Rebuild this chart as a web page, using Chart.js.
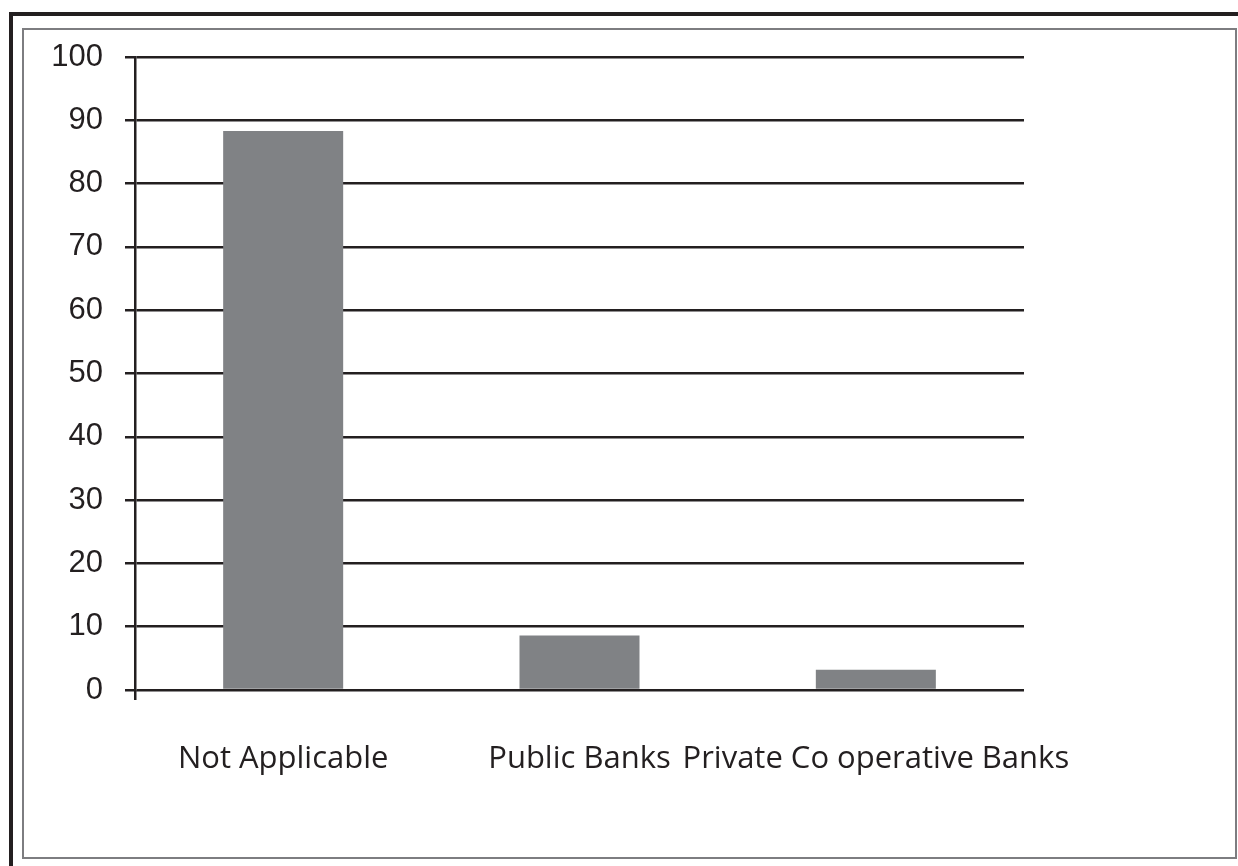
<!DOCTYPE html>
<html>
<head>
<meta charset="utf-8">
<script src="https://cdn.jsdelivr.net/npm/chart.js@4/dist/chart.umd.min.js"></script>
<style>
    html, body { margin: 0; padding: 0; background: #fff; }
    body { width: 1238px; height: 866px; position: relative; overflow: hidden; }
    #outer { position: absolute; left: 9px; top: 12px; width: 1300px; height: 900px;
             border-left: 4px solid #231f20; border-top: 4px solid #231f20; }
    #inner { position: absolute; left: 22px; top: 28px; width: 1211px; height: 827px;
             border: 2px solid #7d7d80; }
    #wrap { position: absolute; left: 0; top: 0; width: 1238px; height: 866px; }
</style>
</head>
<body>
<div id="outer"></div>
<div id="inner"></div>
<div id="wrap"><canvas id="chart" width="1238" height="866"></canvas></div>
<script>
const categories = ['Not Applicable', 'Public Banks', 'Private Co operative Banks'];
const values = [88.3, 8.6, 3.2];
const yTicks = [0, 10, 20, 30, 40, 50, 60, 70, 80, 90, 100];

const ink = '#231f20';

new Chart(document.getElementById('chart'), {
    type: 'bar',
    data: {
        labels: categories,
        datasets: [
            {
                data: values,
                backgroundColor: '#808285',
                borderWidth: 0,
                barPercentage: 0.405,
                categoryPercentage: 1,
            },
        ],
    },
    options: {
        responsive: false,
        animation: false,
        layout: { padding: { top: 57, right: 214, left: 0, bottom: 0 } },
        plugins: { legend: { display: false }, tooltip: { enabled: false } },
        scales: {
            x: {
                offset: true,
                grid: {
                    offset: true,
                    drawOnChartArea: false,
                    drawTicks: true,
                    tickLength: 10,
                    lineWidth: 2.5,
                    color: ctx => ctx.index === 0 ? ink : 'rgba(0,0,0,0)',
                },
                border: { display: false },
                ticks: {
                    color: ink,
                    padding: 41,
                    maxRotation: 0,
                    autoSkip: false,
                    font: { family: 'Open Sans', size: 31 },
                },
                afterFit: s => { s.height = 176; },
            },
            y: {
                min: 0,
                max: 100,
                afterBuildTicks: s => { s.ticks = yTicks.map(v => ({ value: v })); },
                grid: {
                    color: ink,
                    lineWidth: 2.5,
                    tickLength: 10,
                },
                border: { display: true, color: ink, width: 2.5 },
                ticks: {
                    color: ink,
                    padding: 22,
                    font: { family: 'Liberation Sans', size: 31 },
                },
                afterFit: s => { s.width = 135; },
            },
        },
    },
});
</script>
</body>
</html>
